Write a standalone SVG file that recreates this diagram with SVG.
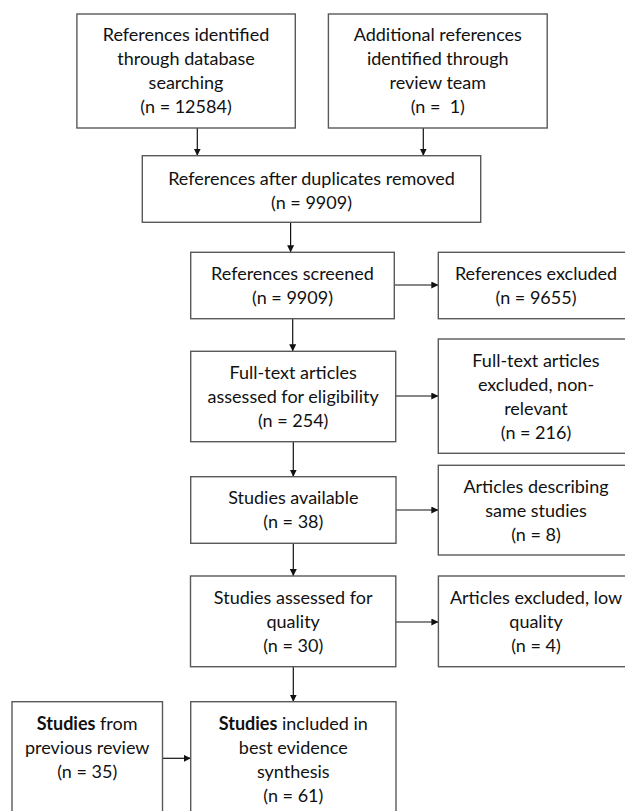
<svg xmlns="http://www.w3.org/2000/svg" width="625" height="811" viewBox="0 0 625 811">
<defs>
<style>
.box{fill:#fff;stroke:#595959;stroke-width:1.4}
text{font-family:Lato,"Open Sans","Liberation Sans",sans-serif;font-size:18px;fill:#111;text-anchor:middle}
.b{font-weight:bold}
.con{stroke:#111;stroke-width:1.2;fill:none}
</style>
<marker id="ah" viewBox="0 0 10 10" refX="10" refY="5" markerWidth="7" markerHeight="7" markerUnits="userSpaceOnUse" orient="auto">
<path d="M0,0 L10,5 L0,10 z" fill="#111"/>
</marker>
</defs>
<rect width="625" height="811" fill="#fff"/>
<g id="connectors">
<line class="con" x1="197.3" y1="128" x2="197.3" y2="155.7" marker-end="url(#ah)"/>
<line class="con" x1="423.3" y1="128" x2="423.3" y2="155.7" marker-end="url(#ah)"/>
<line class="con" x1="290.6" y1="222.3" x2="290.6" y2="252.3" marker-end="url(#ah)"/>
<line class="con" x1="394.3" y1="285" x2="438.3" y2="285" marker-end="url(#ah)"/>
<line class="con" x1="292.7" y1="318.7" x2="292.7" y2="351.3" marker-end="url(#ah)"/>
<line class="con" x1="395.7" y1="396" x2="438.3" y2="396" marker-end="url(#ah)"/>
<line class="con" x1="293.3" y1="441.7" x2="293.3" y2="476.7" marker-end="url(#ah)"/>
<line class="con" x1="396" y1="510" x2="438.3" y2="510" marker-end="url(#ah)"/>
<line class="con" x1="293.3" y1="543.3" x2="293.3" y2="576" marker-end="url(#ah)"/>
<line class="con" x1="395.8" y1="622" x2="438.4" y2="622" marker-end="url(#ah)"/>
<line class="con" x1="293.3" y1="666.7" x2="293.3" y2="701.7" marker-end="url(#ah)"/>
<line class="con" x1="162.5" y1="758.3" x2="190.7" y2="758.3" marker-end="url(#ah)"/>
</g>
<g id="n1">
<rect class="box" x="76.9" y="14" width="218.4" height="114"/>
<text x="186" y="41">References identified</text>
<text x="186" y="65">through database</text>
<text x="186" y="89">searching</text>
<text x="186" y="113">(n = 12584)</text>
</g>
<g id="n2">
<rect class="box" x="328.4" y="14" width="218.8" height="114"/>
<text x="437.8" y="41">Additional references</text>
<text x="437.8" y="65">identified through</text>
<text x="437.8" y="89">review team</text>
<text x="437.8" y="113" xml:space="preserve">(n =  1)</text>
</g>
<g id="n3">
<rect class="box" x="142.3" y="155.7" width="338.4" height="66.6"/>
<text x="311.5" y="184.5">References after duplicates removed</text>
<text x="311.5" y="208.5">(n = 9909)</text>
</g>
<g id="n4">
<rect class="box" x="190.7" y="252.3" width="203.6" height="66.4"/>
<text x="292.5" y="279.5">References screened</text>
<text x="292.5" y="303.5">(n = 9909)</text>
</g>
<g id="n5">
<rect class="box" x="438.3" y="252.3" width="196" height="66.4"/>
<text x="536" y="279.5">References excluded</text>
<text x="536" y="303.5">(n = 9655)</text>
</g>
<g id="n6">
<rect class="box" x="190.7" y="351.3" width="205" height="90.4"/>
<text x="293.2" y="378.5">Full-text articles</text>
<text x="293.2" y="402.5">assessed for eligibility</text>
<text x="293.2" y="426.5">(n = 254)</text>
</g>
<g id="n7">
<rect class="box" x="438.3" y="339" width="196" height="114.3"/>
<text x="536" y="366.5">Full-text articles</text>
<text x="536" y="390.5">excluded, non-</text>
<text x="536" y="414.5">relevant</text>
<text x="536" y="438.5">(n = 216)</text>
</g>
<g id="n8">
<rect class="box" x="190.7" y="476.7" width="205.3" height="66.6"/>
<text x="293.3" y="504">Studies available</text>
<text x="293.3" y="528">(n = 38)</text>
</g>
<g id="n9">
<rect class="box" x="438.3" y="465.3" width="196" height="89.7"/>
<text x="536" y="492.5">Articles describing</text>
<text x="536" y="516.5">same studies</text>
<text x="536" y="540.5">(n = 8)</text>
</g>
<g id="n10">
<rect class="box" x="190.5" y="576" width="205.3" height="90.7"/>
<text x="293.2" y="603.5">Studies assessed for</text>
<text x="293.2" y="627.5">quality</text>
<text x="293.2" y="651.5">(n = 30)</text>
</g>
<g id="n11">
<rect class="box" x="438.4" y="576" width="196" height="90.7"/>
<text x="536" y="603.5">Articles excluded, low</text>
<text x="536" y="627.5">quality</text>
<text x="536" y="651.5">(n = 4)</text>
</g>
<g id="n12">
<rect class="box" x="12" y="701.7" width="150.5" height="130"/>
<text x="87.2" y="729.5"><tspan class="b">Studies</tspan> from</text>
<text x="87.2" y="753.5">previous review</text>
<text x="87.2" y="777.5">(n = 35)</text>
</g>
<g id="n13">
<rect class="box" x="190.7" y="701.7" width="205.3" height="130"/>
<text x="293.3" y="729.5"><tspan class="b">Studies</tspan> included in</text>
<text x="293.3" y="753.5">best evidence</text>
<text x="293.3" y="777.5">synthesis</text>
<text x="293.3" y="801.5">(n = 61)</text>
</g>
</svg>
